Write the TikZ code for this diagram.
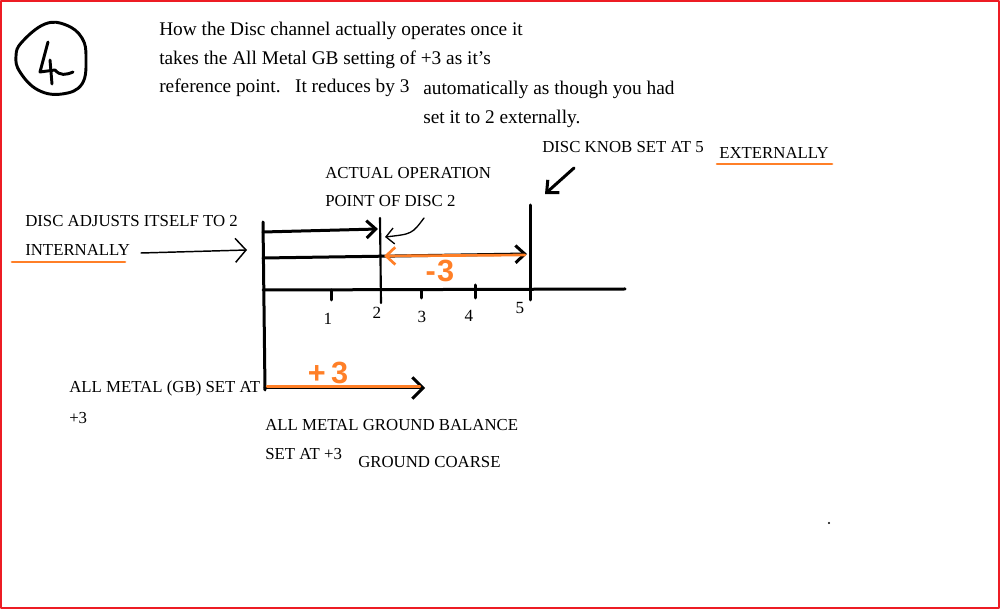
\documentclass[tikz,border=0pt]{standalone}
\usepackage{fontspec}
\setmainfont{Liberation Serif}
\newfontfamily\handfont{Liberation Sans}
\usetikzlibrary{arrows.meta}
\definecolor{paintorange}{RGB}{255,127,39}
\definecolor{paintred}{RGB}{237,28,36}
\begin{document}
\begin{tikzpicture}[x=0.75pt,y=-0.75pt,
  txt/.style={anchor=west,inner sep=0pt,font=\fontsize{12.6}{15}\selectfont},
  head/.style={anchor=west,inner sep=0pt,font=\fontsize{14.5}{17}\selectfont},
  num/.style={inner sep=0pt,font=\fontsize{12.8}{15}\selectfont},
  hand/.style={inner sep=0pt,text=paintorange,font=\handfont\bfseries\fontsize{23}{23}\selectfont},
  thk/.style={line width=2.25pt},
  med/.style={line width=1.6pt},
  thin/.style={line width=1pt},
  uline/.style={paintorange,line width=2pt},
  barb/.style={-{Straight Barb[length=7pt,width=13pt]}},
  obarb/.style={-{Straight Barb[length=7pt,width=13pt,line width=2pt]}},
  tbarb/.style={-{Straight Barb[length=6pt,width=12pt]}},
  line cap=round, line join=round]
\useasboundingbox (0,0) rectangle (1000,609);
\fill[white] (0,0) rectangle (1000,609);
\draw[paintred,line width=1.5pt] (1,1) rectangle (999,608);

% circled 4
\draw[line width=2.2pt] plot[smooth cycle,tension=0.7] coordinates {(22,42) (45,24) (66,25) (82,38) (86,58) (82,84) (62,94) (38,90) (20,72) (16,56)};
\draw[line width=2.2pt] (48,42) -- (40,72) -- (55,70) .. controls (60,76) and (66,75) .. (73,72);
\draw[line width=2.2pt] (50,60) -- (52,84);

% header text
\node[head] (t1) at (159,31) {How the Disc channel actually operates once it};
\node[head] (t2) at (159,60) {takes the All Metal GB setting of +3 as it's};
\node[head] (t3) at (159,88) {reference point.\ \ \ It reduces by 3};
\node[head] (t4) at (423,90) {automatically as though you had};
\node[head] (t5) at (423,119) {set it to 2 externally.};

% labels
\node[txt] (knob) at (542,147) {DISC KNOB SET AT 5};
\node[txt] (ext) at (719,153) {EXTERNALLY};
\draw[uline] (717,164) -- (832,164);
\node[txt] (act1) at (325,173) {ACTUAL OPERATION};
\node[txt] (act2) at (325,201) {POINT OF DISC 2};
\node[txt] (adj1) at (25,221) {DISC ADJUSTS ITSELF TO 2};
\node[txt] (adj2) at (25,250) {INTERNALLY};
\draw[uline] (12,262) -- (125,262);
\node[txt] (am1) at (69,388) {ALL METAL (GB) SET AT};
\node[txt] (am2) at (69,418) {+3};
\node[txt] (gb1) at (265,425) {ALL METAL GROUND BALANCE};
\node[txt] (gb2) at (265,454) {SET AT +3};
\node[txt] (gc) at (358,462) {GROUND COARSE};

% scale numbers
\node[num] (n1) at (328,319) {1};
\node[num] (n2) at (377,313) {2};
\node[num] (n3) at (422,317) {3};
\node[num] (n4) at (469,316) {4};
\node[num] (n5) at (520,308) {5};

% key points
\coordinate (otop) at (263,222);
\coordinate (obot) at (265,390);
\coordinate (aleft) at (263,290);
\coordinate (aright) at (625,289);
\coordinate (twotop) at (380,218);
\coordinate (twobot) at (381,303);
\coordinate (fivetop) at (530,205);
\coordinate (fivebot) at (530,300);

% axes
\draw[thk] (otop) -- (obot);
\draw[thk] (aleft) -- (aright);
\draw[med] (twotop) -- (twobot);
\draw[thk] (fivetop) -- (fivebot);
\draw[thk] (331,290) -- (331,300);
\draw[thk] (421,290) -- (421,298);
\draw[thk] (475,285) -- (475,298);

% arrows on the scale
\coordinate (a1s) at (263,232);
\coordinate (a1e) at (378,229);
\draw[thk,barb] (a1s) -- (a1e);
\coordinate (a2s) at (263,258);
\coordinate (a2e) at (527,254);
\draw[thk,barb] (a2s) -- (a2e);
\coordinate (o1s) at (525,255);
\coordinate (o1e) at (384,256);
\draw[paintorange,line width=2pt,obarb] (o1s) -- (o1e);
\node[hand] (minus3) at (440,271) {-\hspace{1pt}3};

% pointer to operation point
\coordinate (pt1) at (424,218);
\coordinate (pt2) at (385,237);
\draw[thin,tbarb] (pt1) .. controls (412,234) .. (pt2);

% internally arrow
\coordinate (int1) at (141,253);
\coordinate (int2) at (247,250);
\draw[line width=1.1pt,-{Straight Barb[length=8pt,width=18pt]}] (int1) -- (int2);

% knob arrow
\coordinate (k1) at (574,168);
\coordinate (k2) at (545,194);
\draw[thk,barb] (k1) -- (k2);

% lower all metal arrow
\coordinate (b1) at (265,388);
\coordinate (b2) at (425,388);
\draw[thk,-{Straight Barb[length=8pt,width=16pt]}] (b1) -- (b2);
\draw[paintorange,line width=1.8pt] (267,386.5) -- (420,386.5);
\node[hand] (plus3) at (328,373) {+\hspace{4pt}3};

% speck
\fill (829,523) circle (1.2);
\end{tikzpicture}
\end{document}
